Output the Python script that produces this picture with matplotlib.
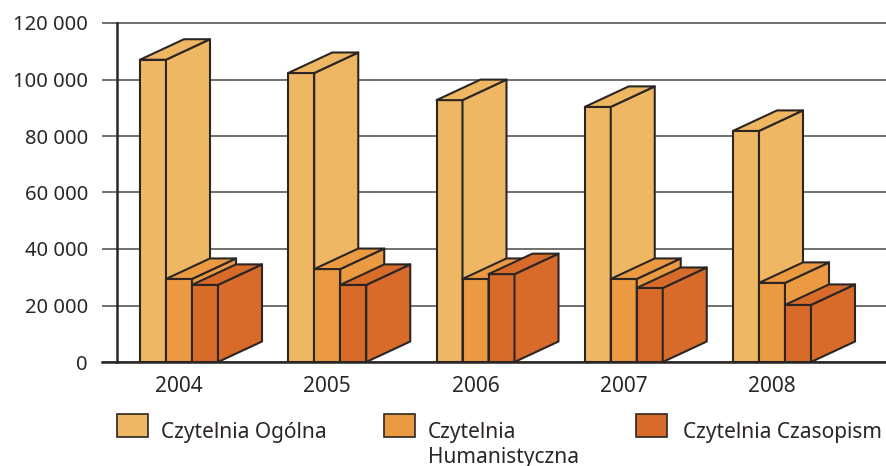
import matplotlib
matplotlib.use("Agg")
import matplotlib.pyplot as plt
from matplotlib.patches import Polygon, Rectangle

years = ["2004", "2005", "2006", "2007", "2008"]
ogolna = [107000, 102300, 92700, 90300, 81800]
humanistyczna = [29400, 32900, 29400, 29400, 28000]
czasopism = [27300, 27300, 31100, 26200, 20200]
series_names = ["Czytelnia Ogólna", "Czytelnia\nHumanistyczna", "Czytelnia Czasopism"]
colors = ["#EFB764", "#EB9A42", "#D96B2A"]
yticks = [0, 20000, 40000, 60000, 80000, 100000, 120000]

W, H = 886, 466
LEFT, RIGHT, BOTTOM, TOP = 117, 886, 362, 23
EDGE = "#2b2624"
GRID = "#5a5654"

# one category = 148.25 px, the bar sizes below are in data units
width = 26 / 148.25
depth_x = 44 / 148.25
depth_y = 20.5 / (TOP - BOTTOM) * -120000


def draw_box(ax, x0, value, color):
    x1 = x0 + width
    faces = [
        [(x0, 0), (x1, 0), (x1, value), (x0, value)],
        [(x1, 0), (x1 + depth_x, depth_y), (x1 + depth_x, value + depth_y), (x1, value)],
        [(x0, value), (x1, value), (x1 + depth_x, value + depth_y), (x0 + depth_x, value + depth_y)],
    ]
    for face in faces:
        ax.add_patch(Polygon(face, closed=True, facecolor=color, edgecolor=EDGE,
                             linewidth=1.5, joinstyle="round", zorder=3, clip_on=False))


plt.rcParams["font.family"] = ["Noto Sans", "DejaVu Sans"]
fig = plt.figure(figsize=(W / 100, H / 100), dpi=100)
ax = fig.add_axes([LEFT / W, 1 - BOTTOM / H, (RIGHT - LEFT) / W, (BOTTOM - TOP) / H])

ax.set_xlim((LEFT - 179) / 148.25, (RIGHT - 179) / 148.25)
ax.set_ylim(0, 120000)

for i in range(len(years)):
    draw_box(ax, i - 1.5 * width, ogolna[i], colors[0])
    draw_box(ax, i - 0.5 * width, humanistyczna[i], colors[1])
    draw_box(ax, i + 0.5 * width, czasopism[i], colors[2])

ax.set_xticks(range(len(years)))
ax.set_xticklabels(years, fontsize=15, color="#2b2624")
ax.tick_params(axis="x", length=0, pad=10)
ax.set_yticks(yticks)
ax.set_yticklabels([f"{v:,}".replace(",", " ") for v in yticks], fontsize=14.5, color="#2b2624")
ax.tick_params(axis="y", length=10.8, width=1.2, color=GRID, pad=10)
ax.grid(True, axis="y", color=GRID, linewidth=1.2, zorder=1, clip_on=False)
ax.set_axisbelow(True)

for side in ["top", "right"]:
    ax.spines[side].set_visible(False)
for side in ["left", "bottom"]:
    ax.spines[side].set_color(EDGE)
    ax.spines[side].set_linewidth(1.8)
    ax.spines[side].set_zorder(4)
# bottom line also runs left of the axis, like the tick marks
ax.plot([-15 / (RIGHT - LEFT), 0], [0, 0], transform=ax.get_yaxis_transform(), color=EDGE,
        linewidth=1.8, clip_on=False, zorder=4)

# legend placed by hand, the three entries are not evenly spaced
key_x = [117, 384, 636]
text_x = [161, 428, 683]
for i in range(3):
    fig.add_artist(Rectangle((key_x[i] / W, 1 - 437 / H), 31 / W, 23 / H, facecolor=colors[i],
                             edgecolor=EDGE, linewidth=1.2, transform=fig.transFigure))
    fig.text(text_x[i] / W, 1 - 422 / H, series_names[i], fontsize=15, color="#2b2624",
             ha="left", va="top", linespacing=1.22)

fig.savefig("out.png", dpi=100)
